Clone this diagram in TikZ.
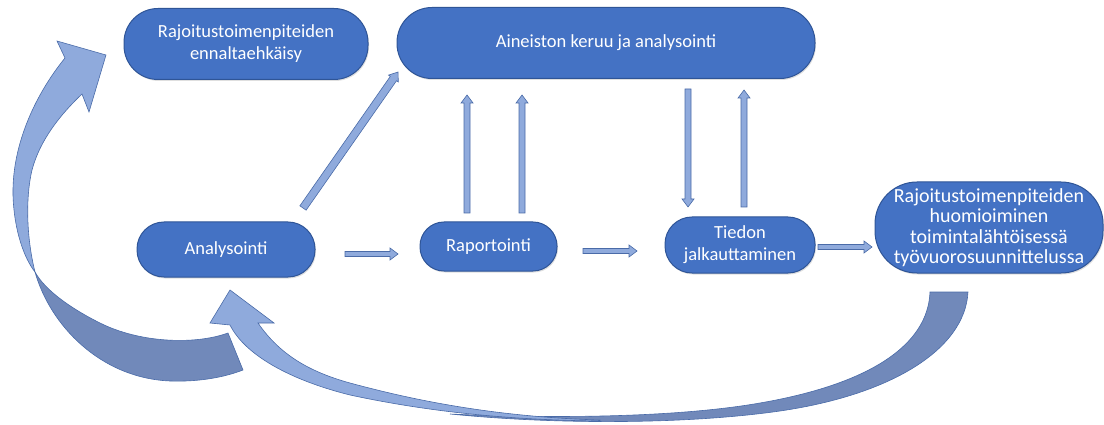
\documentclass[tikz,border=0pt]{standalone}
\usepackage{fontspec}
\setmainfont{Carlito}
\usetikzlibrary{calc,shadows}
\definecolor{boxblue}{HTML}{4472C4}
\definecolor{boxedge}{HTML}{2F5597}
\definecolor{arrlight}{HTML}{8FAADC}
\definecolor{arrdark}{HTML}{7189BA}
\definecolor{arredge}{HTML}{4A6BA8}
\tikzset{
  stage/.style={draw=boxedge, line width=1pt, fill=boxblue, text=white,
    font=\fontsize{18.5}{22}\selectfont, align=center, inner sep=0pt,
    drop shadow={opacity=0.25, shadow xshift=1pt, shadow yshift=-1.5pt}},
  thinarrow/.style={fill=arrlight, draw=arredge, line width=0.6pt, line join=miter},
  bigarrowlight/.style={fill=arrlight, draw=arredge, line width=0.6pt, line join=miter},
  bigarrowdark/.style={fill=arrdark, draw=arredge, line width=0.6pt, line join=miter},
}
% block arrow: [shaft half width]{from}{to}
\newcommand\blockarr[3][2.8pt]{%
  \coordinate (tmph) at ($(#3)!8pt!(#2)$);
  \draw[thinarrow] ($(#2)!#1!90:(#3)$) -- ($(tmph)!#1!90:(#3)$) -- ($(tmph)!6pt!90:(#3)$)
    -- (#3) -- ($(tmph)!6pt!-90:(#3)$) -- ($(tmph)!#1!-90:(#3)$) -- ($(#2)!#1!-90:(#3)$) -- cycle;}
\begin{document}
\begin{tikzpicture}[x=1pt,y=-1pt]
\useasboundingbox (0,0) rectangle (1104,425);

% ---- big curved arrow on the left (Analysointi -> ennaltaehkaisy)
\draw[bigarrowdark] (35,272) .. controls (50,325) and (100,378) .. (170,381)
   .. controls (200,382) and (225,377) .. (243,370) -- (228,333)
   .. controls (195,345) and (140,343) .. (100,323)
   .. controls (70,308) and (45,290) .. (35,272) -- cycle;
\draw[bigarrowlight] (106,55) -- (57,41) -- (65,58)
   .. controls (35,95) and (12,145) .. (13,195)
   .. controls (14,230) and (24,258) .. (35,272)
   .. controls (27,240) and (25,200) .. (32,170)
   .. controls (40,140) and (60,115) .. (82,94) -- (89,112) -- cycle;

% ---- big curved arrow at the bottom (right box -> Analysointi)
\draw[bigarrowdark] (930,292) -- (968,292) .. controls (965,350) and (890,395) .. (780,411)
   .. controls (690,424) and (560,425) .. (450,414)
   .. controls (560,419) and (680,417) .. (760,403)
   .. controls (870,384) and (928,345) .. (930,292) -- cycle;
\draw[bigarrowlight] (230,290) -- (274,323) -- (258,323)
   .. controls (280,355) and (310,372) .. (350,383)
   .. controls (420,402) and (500,417) .. (600,420)
   -- (600,421)
   .. controls (500,420) and (420,410) .. (350,395)
   .. controls (290,380) and (245,355) .. (230,325) -- (210,323) -- cycle;

% ---- stages
\node[stage, minimum width=244pt, minimum height=71pt, rounded corners=34pt] (prev) at (246,44)
  {Rajoitustoimenpiteiden\\ennaltaehkäisy};
\node[stage, minimum width=418pt, minimum height=71pt, rounded corners=35pt] (data) at (606,43)
  {Aineiston keruu ja analysointi};
\node[stage, minimum width=178pt, minimum height=55pt, rounded corners=27pt] (anal) at (226,249.5)
  {Analysointi};
\node[stage, minimum width=137pt, minimum height=49pt, rounded corners=24pt] (rap) at (488.5,246.5)
  {Raportointi};
\node[stage, minimum width=150pt, minimum height=56pt, rounded corners=27pt] (tied) at (740,245)
  {Tiedon\\jalkauttaminen};
\node[stage, minimum width=228pt, minimum height=91pt, rounded corners=42pt,
      font=\fontsize{20}{20.5}\selectfont] (plan) at (989,227.5)
  {Rajoitustoimenpiteiden\\huomioiminen\\toimintalähtöisessä\\työvuorosuunnittelussa};

% ---- thin block arrows
\coordinate (a1s) at (345,254); \coordinate (a1e) at (398,254);
\coordinate (a2s) at (583,251); \coordinate (a2e) at (637,251);
\coordinate (a3s) at (818,247); \coordinate (a3e) at (872,247);
\coordinate (dgs) at (303,208); \coordinate (dge) at (398,72);
\coordinate (v1s) at (467,213); \coordinate (v1e) at (467,95);
\coordinate (v2s) at (522,213); \coordinate (v2e) at (522,95);
\coordinate (v3s) at (688,89);  \coordinate (v3e) at (688,207);
\coordinate (v4s) at (744,207); \coordinate (v4e) at (744,90);
\blockarr[2.5pt]{a1s}{a1e}
\blockarr[2.5pt]{a2s}{a2e}
\blockarr[2.5pt]{a3s}{a3e}
\blockarr[3.8pt]{dgs}{dge}
\blockarr[3pt]{v1s}{v1e}
\blockarr[3pt]{v2s}{v2e}
\blockarr[3pt]{v3s}{v3e}
\blockarr[3pt]{v4s}{v4e}
\end{tikzpicture}
\end{document}
